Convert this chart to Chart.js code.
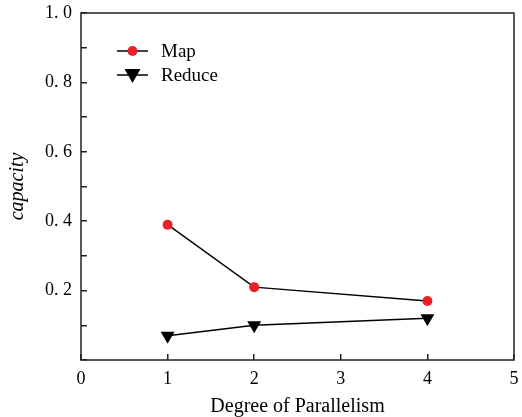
<!DOCTYPE html>
<html>
<head>
<meta charset="utf-8">
<script src="https://cdn.jsdelivr.net/npm/chart.js@4"></script>
<style>
  html, body { margin: 0; padding: 0; background: #fff; }
  #wrap { width: 522px; height: 417px; }
</style>
</head>
<body>
<div id="wrap"><canvas id="capacityChart"></canvas></div>
<script>
var parallelism = [1, 2, 4];
var mapCapacity = [0.39, 0.21, 0.17];
var reduceCapacity = [0.07, 0.10, 0.12];
var seriesNames = ['Map', 'Reduce'];

var serif = "'Liberation Serif', 'DejaVu Serif', serif";

function toPoints(xs, ys) {
  return xs.map(function(x, i) { return { x: x, y: ys[i] }; });
}

// frame around plot + legend drawn inside the plot area
var framePlugin = {
  id: 'frame',
  afterDraw: function(chart) {
    var c = chart.ctx, a = chart.chartArea;
    c.save();
    c.strokeStyle = '#222';
    c.lineWidth = 1.5;
    c.strokeRect(a.left, a.top, a.right - a.left, a.bottom - a.top);

    chart.data.datasets.forEach(function(ds, i) {
      var y = a.top + 38 + i * 24;
      var x0 = a.left + 36, x1 = a.left + 67, mx = (x0 + x1) / 2;
      c.strokeStyle = ds.borderColor;
      c.lineWidth = 1.5;
      c.beginPath(); c.moveTo(x0, y); c.lineTo(x1, y); c.stroke();
      c.fillStyle = ds.pointBackgroundColor;
      c.beginPath();
      if (ds.pointStyle === 'triangle') {
        c.moveTo(mx - 8, y - 6); c.lineTo(mx + 8, y - 6); c.lineTo(mx, y + 8);
        c.closePath();
      } else {
        c.arc(mx, y, ds.pointRadius, 0, Math.PI * 2);
      }
      c.fill();
      c.fillStyle = '#000';
      c.font = '19px ' + serif;
      c.textBaseline = 'middle';
      c.fillText(ds.label, a.left + 80, y + 1);
    });
    c.restore();
  }
};

var ctx = document.getElementById('capacityChart').getContext('2d');
var capacityChart = new Chart(ctx, {
  type: 'line',
  data: {
    datasets: [{
      label: seriesNames[0],
      data: toPoints(parallelism, mapCapacity),
      borderColor: '#000',
      borderWidth: 1.5,
      pointStyle: 'circle',
      pointRadius: 5,
      pointBackgroundColor: '#e8202a',
      pointBorderColor: '#e8202a',
      pointBorderWidth: 0
    }, {
      label: seriesNames[1],
      data: toPoints(parallelism, reduceCapacity),
      borderColor: '#000',
      borderWidth: 1.5,
      pointStyle: 'triangle',
      pointRotation: 180,
      pointRadius: 8,
      pointBackgroundColor: '#000',
      pointBorderColor: '#000',
      pointBorderWidth: 0
    }]
  },
  options: {
    responsive: true,
    maintainAspectRatio: false,
    animation: false,
    layout: { padding: { top: 13, right: -1, left: 0, bottom: 0 } },
    plugins: {
      legend: { display: false },
      tooltip: { enabled: false }
    },
    scales: {
      x: {
        type: 'linear',
        min: 0,
        max: 5,
        border: { display: false },
        grid: { drawOnChartArea: false, tickLength: -6, color: '#222', lineWidth: 1.5 },
        ticks: {
          stepSize: 1,
          padding: 14,
          color: '#000',
          font: { family: serif, size: 18 }
        },
        title: {
          display: true,
          text: 'Degree of Parallelism',
          color: '#000',
          font: { family: serif, size: 20 },
          padding: { top: 0, bottom: -2 }
        },
        afterFit: function(scale) {
          scale.height = 57;
          scale.paddingLeft = 0;
          scale.paddingRight = 0;
        }
      },
      y: {
        min: 0,
        max: 1.0,
        border: { display: false },
        grid: { drawOnChartArea: false, tickLength: -6, color: '#222', lineWidth: 1.5 },
        ticks: {
          stepSize: 0.1,
          padding: 15,
          color: '#000',
          font: { family: serif, size: 18 },
          callback: function(v) {
            var n = Math.round(v * 10);
            if (n === 0 || n % 2 !== 0) return '';
            return v.toFixed(1).replace('.', '. ');
          }
        },
        title: {
          display: true,
          text: 'capacity',
          color: '#000',
          font: { family: serif, size: 20, style: 'italic' },
          padding: { top: 6, bottom: 0 }
        },
        afterFit: function(scale) {
          scale.width = 81;
          scale.paddingTop = 0;
          scale.paddingBottom = 0;
        }
      }
    }
  },
  plugins: [framePlugin]
});
</script>
</body>
</html>
